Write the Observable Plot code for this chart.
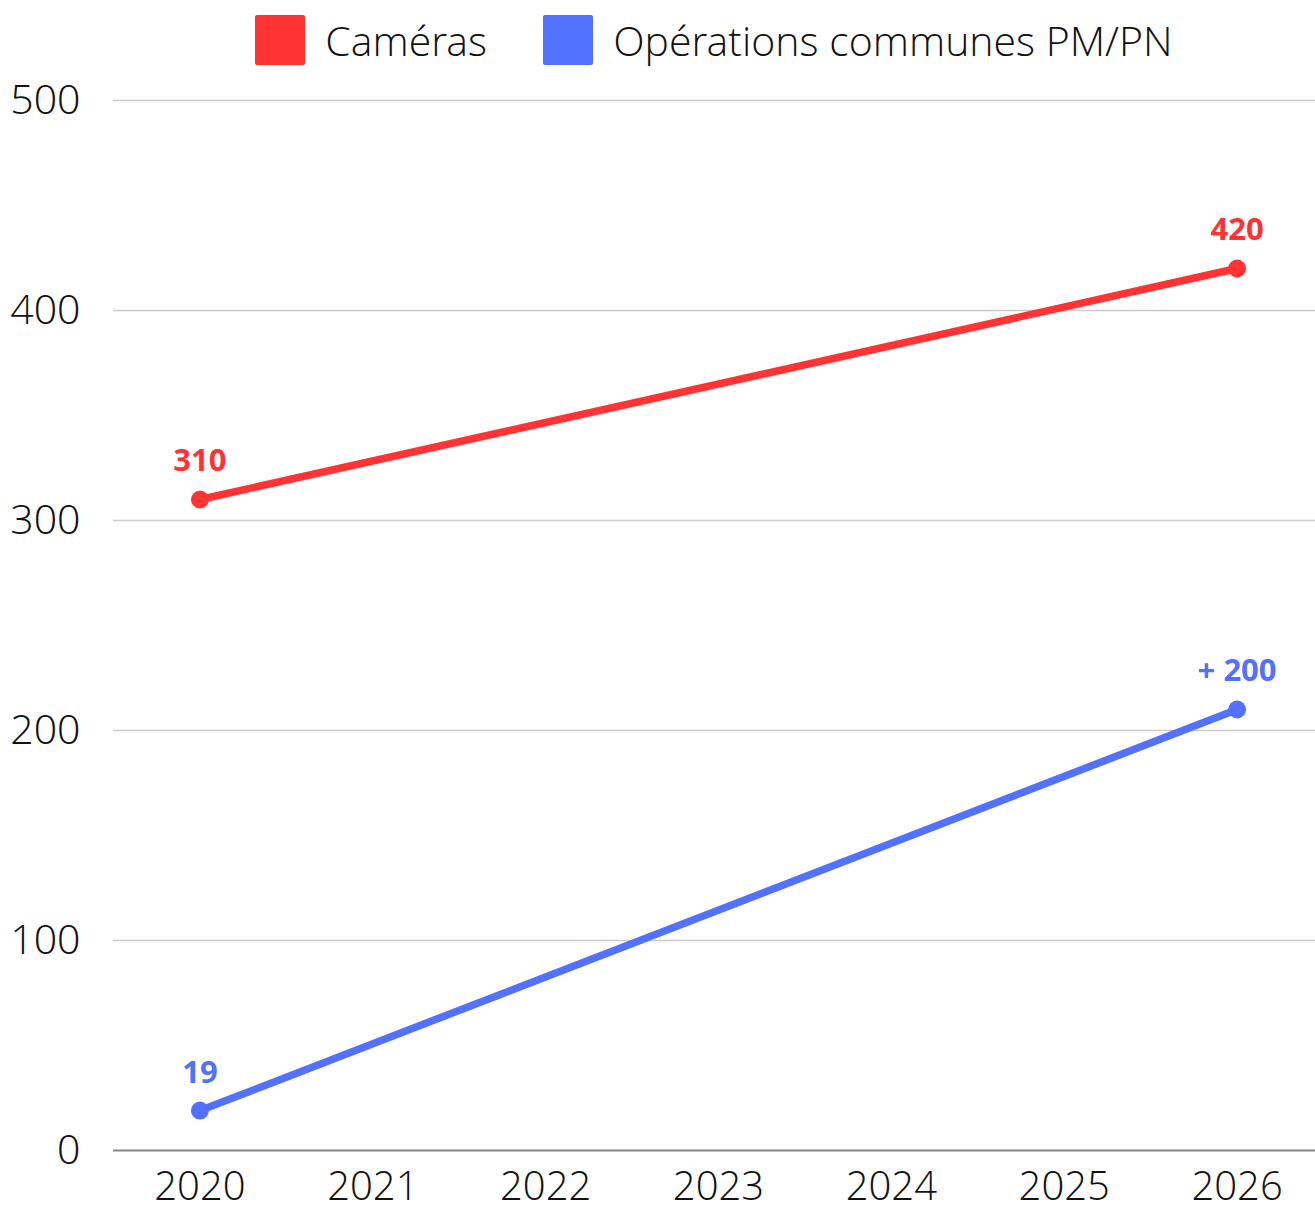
<!DOCTYPE html>
<html>
<head>
<meta charset="utf-8">
<script src="https://cdn.jsdelivr.net/npm/d3@7"></script>
<script src="https://cdn.jsdelivr.net/npm/@observablehq/plot@0.6"></script>
<style>
  html, body { margin: 0; padding: 0; background: #fff; overflow: hidden; }
  body { width: 1315px; font-family: "Open Sans", sans-serif; }
  #legend { height: 50px; padding-top: 15px; display: flex; align-items: flex-start; justify-content: center; padding-left: 113px; box-sizing: content-box; font-family: "Open Sans Light", "Open Sans", sans-serif; font-weight: 300; font-size: 41px; line-height: 50px; color: #111; }
  .item { display: flex; align-items: center; margin: 0 28px; height: 50px; }
  .sw { width: 50px; height: 50px; border-radius: 2px; margin-right: 20px; }
</style>
</head>
<body>
<div id="legend"></div>
<div id="chart"></div>
<script>
const years = [2020, 2021, 2022, 2023, 2024, 2025, 2026];
const seriesNames = ["Caméras", "Opérations communes PM/PN"];
const colors = ["#FF3333", "#5271FF"];
const cameraYears = [2020, 2026];
const cameraValues = [310, 420];
const cameraLabels = ["310", "420"];
const opsYears = [2020, 2026];
const opsValues = [19, 210];
const opsLabels = ["19", "+ 200"];
const yTicks = [0, 100, 200, 300, 400, 500];

const data = [
  ...cameraYears.map((y, i) => ({year: y, value: cameraValues[i], label: cameraLabels[i], series: seriesNames[0]})),
  ...opsYears.map((y, i) => ({year: y, value: opsValues[i], label: opsLabels[i], series: seriesNames[1]}))
];

const legend = document.getElementById("legend");
seriesNames.forEach((n, i) => {
  const it = document.createElement("div");
  it.className = "item";
  it.innerHTML = `<div class="sw" style="background:${colors[i]}"></div><span>${n}</span>`;
  legend.appendChild(it);
});

const font = "Open Sans";
const light = "'Open Sans Light', 'Open Sans', sans-serif";
const chart = Plot.plot({
  width: 1315,
  height: 1140,
  marginTop: 35,
  marginLeft: 113,
  marginRight: -8,
  marginBottom: 55,
  style: {fontFamily: font, background: "#fff", overflow: "hidden"},
  x: {type: "point", domain: years, padding: 0.5, round: false},
  y: {domain: [0, 500]},
  color: {domain: seriesNames, range: colors},
  marks: [
    Plot.gridY(yTicks.filter(d => d > 0), {stroke: "#cccccc", strokeOpacity: 1, strokeWidth: 1.5}),
    Plot.ruleY([0], {stroke: "#888", strokeWidth: 2}),
    Plot.axisY(yTicks, {tickSize: 0, tickPadding: 33, fontSize: 41, fontWeight: 300, fontFamily: light, fill: "#111", label: null}),
    Plot.axisX(years, {tickSize: 0, tickPadding: 21, fontSize: 40, fontWeight: 300, fontFamily: light, fill: "#111", label: null, tickFormat: d => String(d)}),
    Plot.line(data, {x: "year", y: "value", z: "series", stroke: "series", strokeWidth: 7.5}),
    Plot.dot(data, {x: "year", y: "value", fill: "series", r: 9}),
    Plot.text(data, {x: "year", y: "value", text: "label", fill: "series", fontSize: 31, fontWeight: "bold", dy: -38})
  ]
});
document.getElementById("chart").appendChild(chart);
</script>
</body>
</html>
